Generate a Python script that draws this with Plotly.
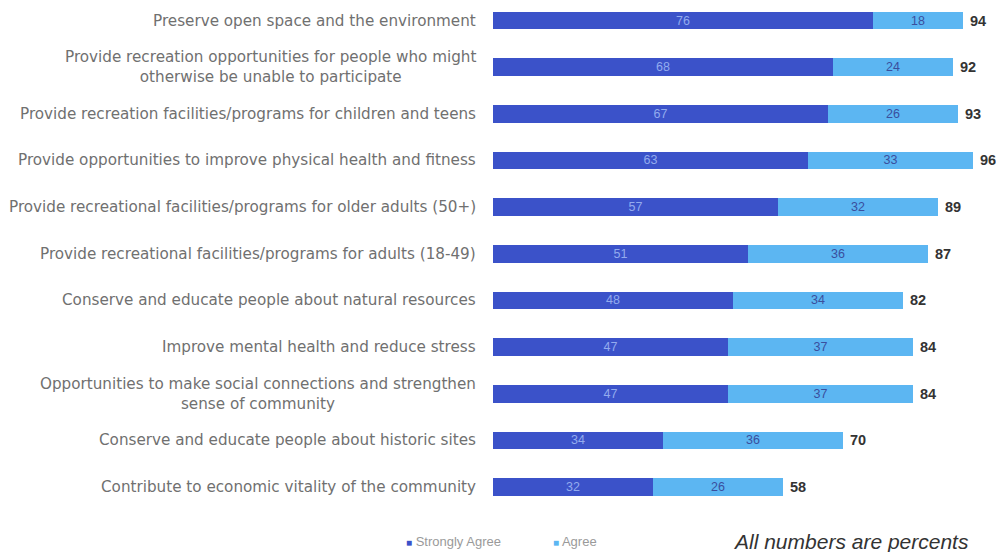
import plotly.graph_objects as go

categories = [
    "Preserve open space and the environment",
    "Provide recreation opportunities for people who might<br>otherwise be unable to participate",
    "Provide recreation facilities/programs for children and teens",
    "Provide opportunities to improve physical health and fitness",
    "Provide recreational facilities/programs for older adults (50+)",
    "Provide recreational facilities/programs for adults (18-49)",
    "Conserve and educate people about natural resources",
    "Improve mental health and reduce stress",
    "Opportunities to make social connections and strengthen<br>sense of community",
    "Conserve and educate people about historic sites",
    "Contribute to economic vitality of the community",
]
strongly_agree = [76, 68, 67, 63, 57, 51, 48, 47, 47, 34, 32]
agree = [18, 24, 26, 33, 32, 36, 34, 37, 37, 36, 26]
totals = [94, 92, 93, 96, 89, 87, 82, 84, 84, 70, 58]
series_names = ["Strongly Agree", "Agree"]

DARK = "#3b52c9"
LIGHT = "#5cb6f2"

idx = list(range(len(categories)))

fig = go.Figure()
fig.add_trace(go.Bar(
    y=idx, x=strongly_agree, orientation="h", name=series_names[0],
    marker=dict(color=DARK, line=dict(width=0)),
    text=[str(v) for v in strongly_agree], textposition="inside",
    insidetextanchor="middle", textangle=0,
    textfont=dict(family="Liberation Sans, Arial", size=12.5, color="#93abee"),
    width=0.38, showlegend=False,
))
fig.add_trace(go.Bar(
    y=idx, x=agree, orientation="h", name=series_names[1],
    marker=dict(color=LIGHT, line=dict(width=0)),
    text=[str(v) for v in agree], textposition="inside",
    insidetextanchor="middle", textangle=0,
    textfont=dict(family="Liberation Sans, Arial", size=12.5, color="#3a4f9e"),
    width=0.38, showlegend=False,
))

annotations = []
for i, (c, t) in enumerate(zip(categories, totals)):
    annotations.append(dict(
        x=0, xref="paper", y=i, yref="y", text=c, showarrow=False,
        xanchor="right", yanchor="middle", align="center", xshift=-15,
        font=dict(family="DejaVu Sans", size=15.2, color="#707070"),
    ))
    annotations.append(dict(
        x=t, xref="x", y=i, yref="y", text=f"<b>{t}</b>", showarrow=False,
        xanchor="left", yanchor="middle", xshift=5,
        font=dict(family="Liberation Sans, Arial", size=14.5, color="#333333"),
    ))

# page body has an 8px margin; figure is laid out in screen pixels minus 8
OFF = 8
extra = [
    dict(x=404, y=541, xanchor="left",
         text=f"<span style='color:{DARK};font-size:10px'>■</span> {series_names[0]}",
         font=dict(family="Liberation Sans, Arial", size=13, color="#9a9a9a")),
    dict(x=551, y=541, xanchor="left",
         text=f"<span style='color:{LIGHT};font-size:10px'>■</span> {series_names[1]}",
         font=dict(family="Liberation Sans, Arial", size=13, color="#9a9a9a")),
    dict(x=851, y=541, xanchor="center",
         text="<i>All numbers are percents</i>",
         font=dict(family="Liberation Sans, Arial", size=21, color="#333333")),
]

W, H = 1004 - OFF, 552 - OFF
L, R, T, B = 493 - OFF, 11, 0, 42
pw, ph = W - L - R, H - T - B
for a in extra:
    a["x"] = (a["x"] - OFF - L) / pw
    a["y"] = (H - B - (a["y"] - OFF)) / ph
    a.update(xref="paper", yref="paper", showarrow=False, yanchor="middle")
    annotations.append(a)

fig.update_layout(
    barmode="stack",
    width=W, height=H,
    margin=dict(l=L, r=R, t=T, b=B),
    plot_bgcolor="white", paper_bgcolor="white",
    xaxis=dict(range=[0, 100], visible=False),
    yaxis=dict(range=[10.49, -0.268], visible=False),
    annotations=annotations,
    uniformtext=dict(minsize=11, mode="show"),
)

fig.write_html("out.html")
